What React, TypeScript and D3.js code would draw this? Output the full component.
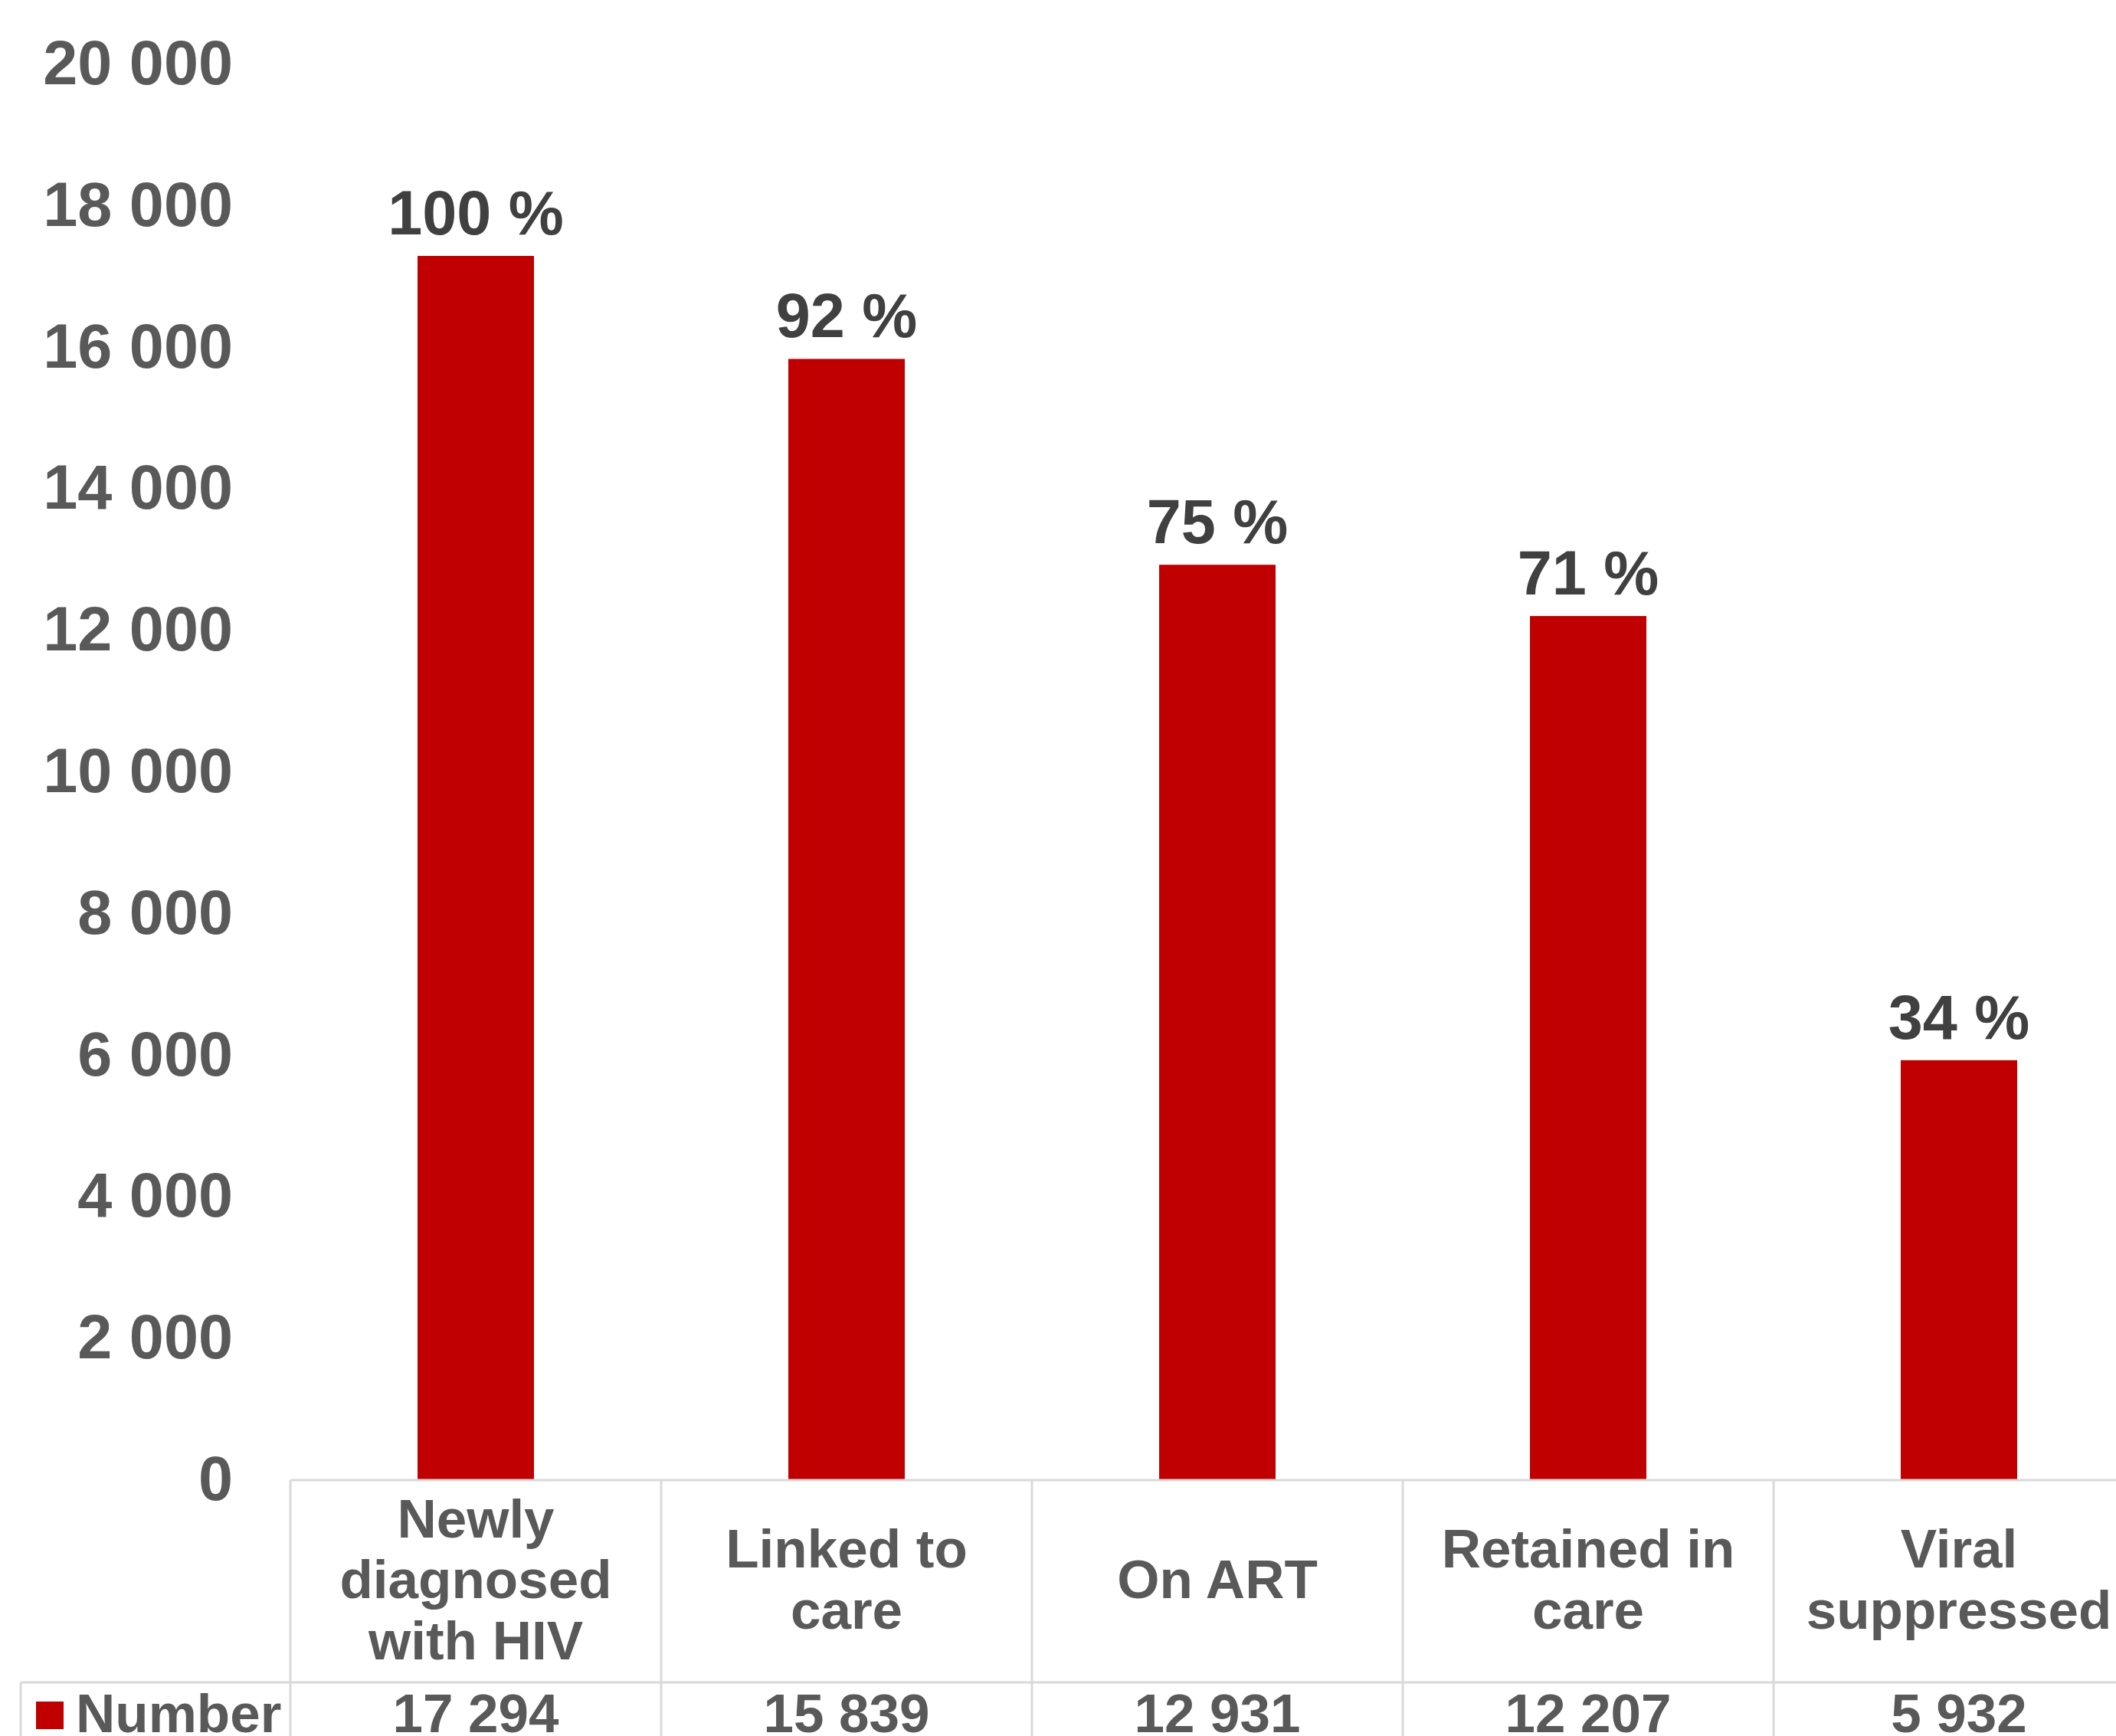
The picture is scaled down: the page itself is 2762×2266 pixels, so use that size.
import React from "react";
import * as d3 from "d3";

const categories = ["Newly diagnosed with HIV", "Linked to care", "On ART", "Retained in care", "Viral suppressed"];
const categoryLines = [["Newly", "diagnosed", "with HIV"], ["Linked to", "care"], ["On ART"], ["Retained in", "care"], ["Viral", "suppressed"]];
const values = [17294, 15839, 12931, 12207, 5932];
const percentLabels = ["100 %", "92 %", "75 %", "71 %", "34 %"];
const yTicks = [0, 2000, 4000, 6000, 8000, 10000, 12000, 14000, 16000, 18000, 20000];
const seriesName = "Number";

const W = 2762;
const H = 2266;
const FONT = "'Liberation Sans', Arial, Helvetica, sans-serif";
const RED = "#C00000";
const GRID = "#d9d9d9";

const locale = d3.formatLocale({ decimal: ".", thousands: " ", grouping: [3], currency: ["", ""] });
const fmt = locale.format(",");

export default function App() {
  const plotLeft = 379;
  const colW = 484;
  const x = d3.scaleBand<string>().domain(categories).range([plotLeft, plotLeft + colW * categories.length]).padding(0);
  const y = d3.scaleLinear().domain([0, 20000]).range([1932, 84]);
  const bw = x.bandwidth();
  const barW = bw * 0.314;
  const tableTop = y(0);
  const row2Top = 2196;
  const catCenter = (tableTop + row2Top) / 2;
  const lh = 79.5;

  return (
    <svg width={W} height={H} style={{ position: "absolute", left: 0, top: 0, background: "#fff" }} fontFamily={FONT} fontWeight="bold">
      <rect x={0} y={0} width={W} height={H} fill="#fff" />
      {/* y tick labels */}
      {yTicks.map((t) => (
        <text key={t} x={304} y={y(t) + 26} textAnchor="end" fontSize={81} fill="#595959">
          {fmt(t)}
        </text>
      ))}
      {/* bars */}
      {categories.map((c, i) => (
        <rect key={c} x={(x(c) as number) + (bw - barW) / 2} y={y(values[i])} width={barW} height={y(0) - y(values[i])} fill={RED} />
      ))}
      {/* percent labels */}
      {categories.map((c, i) => (
        <text key={c} x={(x(c) as number) + bw / 2} y={y(values[i]) - 28} textAnchor="middle" fontSize={81} fill="#404040">
          {percentLabels[i]}
        </text>
      ))}
      {/* table lines */}
      <line x1={plotLeft} x2={W} y1={tableTop} y2={tableTop} stroke={GRID} strokeWidth={3} />
      <line x1={27} x2={W} y1={row2Top} y2={row2Top} stroke={GRID} strokeWidth={3} />
      <line x1={plotLeft} x2={plotLeft} y1={tableTop} y2={H} stroke={GRID} strokeWidth={3} />
      <line x1={27} x2={27} y1={row2Top} y2={H} stroke={GRID} strokeWidth={3} />
      {categories.slice(1).map((c) => (
        <line key={c} x1={x(c) as number} x2={x(c) as number} y1={tableTop} y2={H} stroke={GRID} strokeWidth={3} />
      ))}
      {/* category labels */}
      {categories.map((c, i) => {
        const lines = categoryLines[i];
        const first = catCenter - ((lines.length - 1) / 2) * lh + 22;
        return (
          <text key={c} textAnchor="middle" fontSize={71} fill="#595959">
            {lines.map((l, j) => (
              <tspan key={j} x={(x(c) as number) + bw / 2} y={first + j * lh}>
                {l}
              </tspan>
            ))}
          </text>
        );
      })}
      {/* data row */}
      <rect x={47} y={2221} width={36} height={36} fill={RED} />
      <text x={99} y={2261} fontSize={71} fill="#595959">
        {seriesName}
      </text>
      {categories.map((c, i) => (
        <text key={c} x={(x(c) as number) + bw / 2} y={2261} textAnchor="middle" fontSize={71} fill="#595959">
          {fmt(values[i])}
        </text>
      ))}
    </svg>
  );
}
